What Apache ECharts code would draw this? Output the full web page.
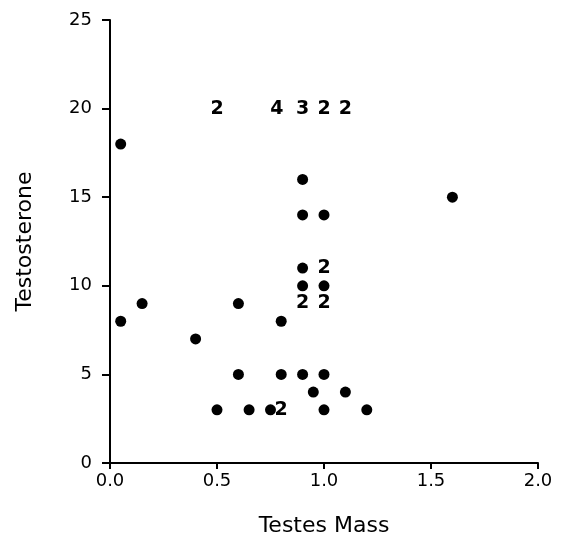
<!DOCTYPE html>
<html><head><meta charset="utf-8">
<script src="https://cdn.jsdelivr.net/npm/echarts@6/dist/echarts.min.js"></script>
<style>html,body{margin:0;padding:0;background:#fff}#c{width:562px;height:542px}</style>
</head><body><div id="c"></div>
<script>
const dotX = [0.05, 0.05, 0.15, 0.4, 0.5, 0.6, 0.6, 0.65, 0.75, 0.8, 0.8, 0.9, 0.9, 0.9, 0.9, 0.9, 0.95, 1.0, 1.0, 1.0, 1.0, 1.1, 1.2, 1.6];
const dotY = [18, 8, 9, 7, 3, 9, 5, 3, 3, 8, 5, 16, 14, 11, 10, 5, 4, 14, 10, 5, 3, 4, 3, 15];
const countX = [0.5, 0.78, 0.9, 1.0, 1.1, 1.0, 0.9, 1.0, 0.8];
const countY = [20, 20, 20, 20, 20, 11, 9, 9, 3];
const countText = ['2', '4', '3', '2', '2', '2', '2', '2', '2'];
const xTicks = ['0.0', '0.5', '1.0', '1.5', '2.0'];

const chart = echarts.init(document.getElementById('c'), null, {renderer: 'canvas'});
const font = 'DejaVu Sans';
chart.setOption({
  animation: false,
  backgroundColor: '#fff',
  grid: {left: 110, right: 24, top: 20, bottom: 79},
  xAxis: {
    type: 'value', min: 0, max: 2, interval: 0.5,
    name: 'Testes Mass', nameLocation: 'middle', nameGap: 52,
    nameTextStyle: {fontFamily: font, fontSize: 22, color: '#000'},
    axisLine: {lineStyle: {color: '#000', width: 2}},
    axisTick: {show: true, length: 6, lineStyle: {color: '#000', width: 2}},
    axisLabel: {fontFamily: font, fontSize: 18, color: '#000', margin: 9,
      formatter: v => xTicks[Math.round(v / 0.5)]},
    splitLine: {show: false}
  },
  yAxis: {
    type: 'value', min: 0, max: 25, interval: 5,
    name: 'Testosterone', nameLocation: 'middle', nameGap: 74, nameRotate: 90,
    nameTextStyle: {fontFamily: font, fontSize: 22, color: '#000'},
    axisLine: {lineStyle: {color: '#000', width: 2}},
    axisTick: {show: true, length: 8, lineStyle: {color: '#000', width: 2}},
    axisLabel: {fontFamily: font, fontSize: 18, color: '#000', margin: 18},
    splitLine: {show: false}
  },
  series: [
    {
      type: 'scatter', symbol: 'circle', symbolSize: 11,
      itemStyle: {color: '#000', opacity: 1},
      data: dotX.map((x, i) => [x, dotY[i]])
    },
    {
      type: 'scatter', symbolSize: 1,
      itemStyle: {color: 'rgba(0,0,0,0)', opacity: 1},
      label: {show: true, position: 'inside', fontFamily: font, fontSize: 19,
        fontWeight: 'bold', color: '#000', opacity: 1,
        formatter: p => countText[p.dataIndex]},
      data: countX.map((x, i) => [x, countY[i]])
    }
  ]
});
</script></body></html>
